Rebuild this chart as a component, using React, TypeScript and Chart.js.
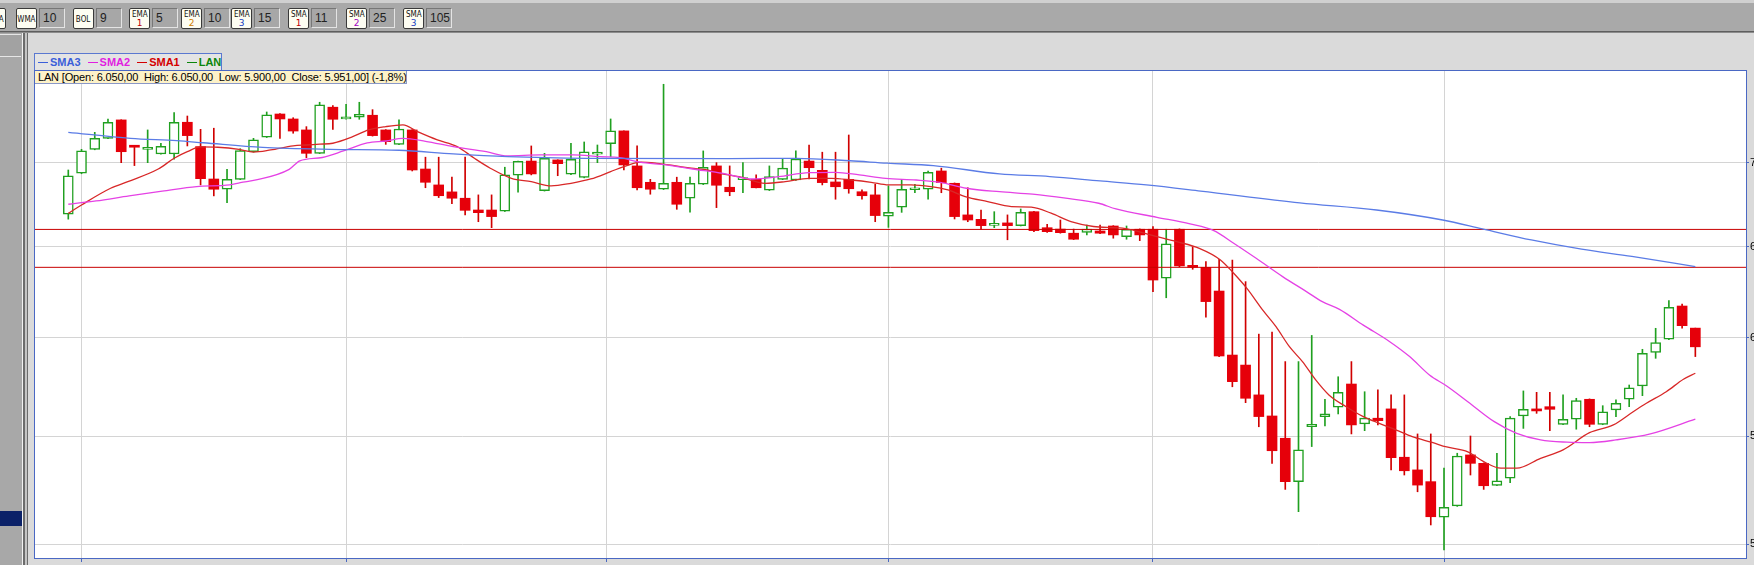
import React, { useEffect, useRef } from 'react';
import { Chart, registerables } from 'chart.js';

Chart.register(...registerables);

// ---------- DATA ----------
const seriesName = 'LAN';

const opens = [
  6690, 6935, 7083, 7152, 7269, 7100, 7083, 7054, 7054, 7254,
  7100, 6900, 6838, 6898, 7068, 7159, 7307, 7275, 7205, 7058,
  7351, 7275, 7286, 7299, 7205, 7114, 7205, 6961, 6864, 6822,
  6784, 6714, 6714, 6707, 6923, 7010, 6829, 7017, 6929, 6909,
  7052, 7118, 7199, 6980, 6880, 6838, 6880, 6784, 6868, 6980,
  6850, 6896, 6898, 6832, 6898, 6894, 7010, 6953, 6882, 6898,
  6823, 6804, 6677, 6730, 6835, 6838, 6949, 6874, 6685, 6659,
  6624, 6638, 6622, 6704, 6610, 6602, 6578, 6583, 6591, 6620,
  6558, 6601, 6601, 6322, 6601, 6391, 6383, 6251, 5908, 5856,
  5704, 5599, 5490, 5284, 5546, 5596, 5642, 5759, 5560, 5588,
  5634, 5399, 5339, 5284, 5121, 5172, 5410, 5370, 5267, 5300,
  5599, 5634, 5645, 5558, 5583, 5682, 5558, 5629, 5682, 5749,
  5922, 5991, 6169, 6050,
];

const highs = [
  6955, 7083, 7190, 7275, 7270, 7102, 7205, 7121, 7316, 7294,
  7209, 7216, 6959, 7087, 7152, 7320, 7309, 7283, 7226, 7383,
  7361, 7370, 7383, 7335, 7207, 7269, 7207, 7034, 7034, 6911,
  7034, 6804, 6804, 6972, 7010, 7104, 7058, 7018, 7121, 7129,
  7110, 7275, 7200, 7104, 6898, 7501, 6911, 6911, 7073, 7000,
  6980, 7000, 6925, 6980, 7025, 7073, 7110, 7065, 7065, 7173,
  6834, 6868, 6858, 6898, 6868, 6949, 6966, 6876, 6847, 6714,
  6704, 6685, 6720, 6706, 6630, 6655, 6602, 6626, 6626, 6622,
  6620, 6603, 6616, 6601, 6603, 6500, 6415, 6428, 6424, 6303,
  6018, 6029, 5874, 5874, 6011, 5682, 5796, 5874, 5720, 5729,
  5704, 5704, 5511, 5511, 5347, 5418, 5501, 5372, 5418, 5596,
  5724, 5717, 5717, 5704, 5687, 5684, 5650, 5679, 5754, 5938,
  6049, 6198, 6179, 6050,
];

const lows = [
  6660, 6932, 7080, 7150, 7000, 6982, 7000, 7052, 7021, 7104,
  6864, 6798, 6758, 6896, 7066, 7157, 7152, 7184, 7031, 7056,
  7209, 7273, 7273, 7166, 7114, 7112, 6949, 6847, 6788, 6752,
  6685, 6645, 6610, 6705, 6820, 6925, 6827, 6920, 6927, 6907,
  7000, 7037, 6955, 6834, 6808, 6836, 6718, 6701, 6866, 6728,
  6799, 6817, 6846, 6830, 6896, 6892, 6900, 6864, 6778, 6814,
  6778, 6645, 6612, 6700, 6817, 6778, 6817, 6661, 6645, 6602,
  6610, 6540, 6620, 6587, 6583, 6578, 6541, 6568, 6576, 6549,
  6543, 6535, 6247, 6214, 6386, 6372, 6108, 5899, 5745, 5665,
  5546, 5370, 5248, 5146, 5450, 5550, 5609, 5511, 5527, 5555,
  5339, 5315, 5237, 5086, 4975, 5170, 5315, 5248, 5265, 5279,
  5538, 5612, 5527, 5556, 5534, 5546, 5556, 5596, 5645, 5700,
  5891, 5989, 6049, 5900,
];

const closes = [
  6920, 7073, 7152, 7254, 7068, 7096, 7096, 7102, 7254, 7169,
  6902, 6838, 6898, 7075, 7142, 7301, 7275, 7198, 7058, 7366,
  7273, 7288, 7305, 7169, 7131, 7211, 6955, 6880, 6799, 6784,
  6712, 6698, 6675, 6925, 7009, 6931, 7027, 6994, 7021, 7068,
  7065, 7199, 6986, 6847, 6838, 6874, 6748, 6874, 6972, 6862,
  6823, 6904, 6847, 6915, 6966, 7023, 6969, 6878, 6853, 6841,
  6799, 6681, 6700, 6838, 6844, 6941, 6878, 6675, 6655, 6622,
  6632, 6622, 6700, 6593, 6587, 6581, 6543, 6602, 6578, 6568,
  6601, 6568, 6312, 6516, 6391, 6383, 6193, 5903, 5771, 5687,
  5596, 5430, 5284, 5434, 5558, 5609, 5717, 5555, 5588, 5576,
  5397, 5335, 5268, 5123, 5166, 5405, 5370, 5265, 5288, 5588,
  5632, 5624, 5632, 5583, 5675, 5558, 5620, 5662, 5740, 5917,
  5973, 6162, 6063, 5951,
];

// moving-average lines, read as [candle index, price]
const sma1Points: [number, number][] = [
  [0, 6694], [1, 6744], [3.2, 6844], [4.5, 6884], [6.8, 6961], [8, 7027], [9, 7068], [10, 7098],
  [11.3, 7096], [12.9, 7083], [14, 7066], [15.3, 7079], [17, 7104], [18, 7110], [19, 7115], [20, 7121],
  [21.5, 7162], [22.7, 7205], [24, 7226], [25.3, 7237], [26.4, 7194], [27.9, 7142], [29.4, 7100],
  [30.7, 7027], [31.9, 6966], [33.5, 6904], [35, 6884], [36.5, 6858], [38, 6874], [39.5, 6900],
  [41, 6945], [42, 6976], [43.3, 7003], [44.5, 6996], [45.8, 6982], [47.1, 6966], [48.3, 6955],
  [49.2, 6935], [50.7, 6914], [52.7, 6874], [54.2, 6884], [56, 6904], [57.7, 6904], [59.2, 6894],
  [60.7, 6880], [62, 6864], [63.7, 6864], [65.2, 6854], [66.5, 6834], [67.8, 6794], [69.5, 6764],
  [71.3, 6734], [72.8, 6731], [74.3, 6695], [75.8, 6645], [77.5, 6617], [79.7, 6607], [82.3, 6558],
  [83.8, 6529], [85.5, 6491], [87.1, 6425], [88.1, 6350], [89.1, 6266], [90.3, 6147], [91.3, 6058],
  [92.3, 5953], [93.3, 5874], [94.3, 5780], [95.3, 5704], [96.6, 5645], [97.9, 5596], [99.1, 5563],
  [100.4, 5530], [101.6, 5498], [103.1, 5470], [104.2, 5448], [105.8, 5425], [107, 5378],
  [108.3, 5347], [109.5, 5347], [111.3, 5394], [113, 5434], [115, 5517], [116.8, 5555],
  [118.3, 5620], [119.3, 5662], [120.8, 5720], [122.1, 5783], [123, 5814],
];

const sma2Points: [number, number][] = [
  [0, 6748], [2.1, 6768], [4.6, 6798], [7.1, 6826], [9.7, 6854], [12.2, 6864], [13, 6878],
  [14.2, 6894], [16.7, 6959], [17.5, 7011], [19.2, 7032], [20.8, 7073], [22.6, 7123], [24, 7135],
  [25.3, 7151], [27, 7133], [29.1, 7100], [31.6, 7068], [33.2, 7042], [35.7, 7048], [38.2, 7048],
  [40.2, 7037], [41.7, 7031], [43.2, 7003], [45.2, 6986], [47.2, 6961], [49.5, 6934], [51.7, 6900],
  [53.7, 6914], [56, 6939], [58, 6941], [59.8, 6925], [61.8, 6904], [64.1, 6894], [65.9, 6880],
  [67.9, 6844], [70.4, 6823], [72.9, 6808], [75.4, 6784], [77.9, 6754], [79.2, 6720], [82.3, 6671],
  [84.8, 6632], [86.6, 6593], [88.1, 6520], [89.8, 6434], [91.8, 6331], [93.6, 6248], [94.8, 6193],
  [96.1, 6151], [97.9, 6066], [99.9, 5978], [101.4, 5900], [102.9, 5805], [104.2, 5749],
  [105.8, 5670], [107.8, 5571], [109.5, 5514], [111.3, 5482], [113.3, 5471], [115, 5469],
  [117, 5482], [119.6, 5511], [123, 5583],
];

const sma3Points: [number, number][] = [
  [0, 7190], [4.7, 7152], [8.2, 7137], [10.2, 7124], [14.7, 7095], [19.8, 7083], [25, 7077],
  [29.1, 7054], [33.2, 7037], [39.2, 7027], [50, 7025], [55, 7027], [59.1, 7012], [61.9, 6997],
  [65.4, 6982], [70.4, 6931], [74.2, 6915], [78, 6888], [81.5, 6864], [85.6, 6827], [93.1, 6756],
  [98.9, 6714], [103.9, 6655], [106.9, 6603], [110.6, 6539], [114.4, 6486], [118.2, 6445],
  [123, 6387],
];

const levelLines = [6600, 6383];
const priceTicks = [5000, 5500, 6000, 6500, 7000];
const periodGridIdx = [1, 21, 40.7, 62, 82, 104];

const legendItems = [
  { label: 'SMA3', color: '#3b5fd9' },
  { label: 'SMA2', color: '#e01fe0' },
  { label: 'SMA1', color: '#d40000' },
  { label: 'LAN', color: '#0c860c' },
];

const toolbarItems = [
  { name: 'WMA', num: '', numColor: '', value: '10' },
  { name: 'BOL', num: '', numColor: '', value: '9' },
  { name: 'EMA', num: '1', numColor: '#c00000', value: '5' },
  { name: 'EMA', num: '2', numColor: '#d08000', value: '10' },
  { name: 'EMA', num: '3', numColor: '#2040c0', value: '15' },
  { name: 'SMA', num: '1', numColor: '#c00000', value: '11' },
  { name: 'SMA', num: '2', numColor: '#a000c0', value: '25' },
  { name: 'SMA', num: '3', numColor: '#2040c0', value: '105' },
];

// ---------- LAYOUT (not data) ----------
const toolbarLeft = [16, 73, 129, 181, 231, 288, 346, 403];
const X_MIN = -2.517;
const X_MAX = 126.83;
const Y_MIN = 4940;
const Y_MAX = 7596;

const fmtDE = (v: number, dec: number) => {
  const s = v.toFixed(dec);
  const [i, d] = s.split('.');
  const neg = i.startsWith('-');
  const ii = (neg ? i.slice(1) : i).replace(/\B(?=(\d{3})+(?!\d))/g, '.');
  return (neg ? '-' : '') + ii + (d !== undefined ? ',' + d : '');
};

export default function App() {
  const canvasRef = useRef<HTMLCanvasElement | null>(null);

  useEffect(() => {
    const canvas = canvasRef.current;
    if (!canvas) return;
    const n = opens.length;
    const idx = Array.from({ length: n }, (_, i) => i);
    const isUp = idx.map((i) => closes[i] > opens[i]);
    const GREEN = '#20a020';
    const RED = '#e6000a';
    const RED_WICK = '#d00000';

    const chart = new Chart(canvas, {
      type: 'bar',
      data: {
        datasets: [
          {
            type: 'line',
            label: 'SMA3',
            data: sma3Points.map(([x, y]) => ({ x, y })),
            borderColor: '#5b7ce6',
            borderWidth: 1.3,
            pointRadius: 0,
            cubicInterpolationMode: 'monotone',
            order: 1,
          } as any,
          {
            type: 'line',
            label: 'SMA2',
            data: sma2Points.map(([x, y]) => ({ x, y })),
            borderColor: '#e542e5',
            borderWidth: 1.3,
            pointRadius: 0,
            cubicInterpolationMode: 'monotone',
            order: 1,
          } as any,
          {
            type: 'line',
            label: 'SMA1',
            data: sma1Points.map(([x, y]) => ({ x, y })),
            borderColor: '#d82828',
            borderWidth: 1.3,
            pointRadius: 0,
            cubicInterpolationMode: 'monotone',
            order: 1,
          } as any,
          ...levelLines.map((v) => ({
            type: 'line',
            label: 'level ' + v,
            data: [
              { x: X_MIN, y: v },
              { x: X_MAX, y: v },
            ],
            borderColor: '#c80000',
            borderWidth: 1,
            pointRadius: 0,
            order: 2,
          })) as any[],
          {
            type: 'bar',
            label: seriesName + ' body',
            data: idx.map((i) => ({ x: i, y: [opens[i], closes[i]] })),
            backgroundColor: isUp.map((u) => (u ? '#ffffff' : RED)),
            borderColor: isUp.map((u) => (u ? GREEN : RED)),
            borderWidth: isUp.map((u) => (u ? 1.5 : 0)),
            borderSkipped: false,
            barThickness: 10,
            grouped: false,
            minBarLength: 2,
            order: 3,
          } as any,
          {
            type: 'bar',
            label: seriesName + ' wick',
            data: idx.map((i) => ({ x: i, y: [lows[i], highs[i]] })),
            backgroundColor: isUp.map((u) => (u ? GREEN : RED_WICK)),
            borderWidth: 0,
            barThickness: 1,
            grouped: false,
            order: 4,
          } as any,
        ],
      },
      options: {
        responsive: false,
        maintainAspectRatio: false,
        animation: false,
        events: [],
        layout: { padding: { left: 35, top: 70, right: 0, bottom: 0 } },
        plugins: { legend: { display: false }, tooltip: { enabled: false } },
        scales: {
          x: {
            type: 'linear',
            min: X_MIN,
            max: X_MAX,
            offset: false,
            afterBuildTicks: (s: any) => {
              s.ticks = periodGridIdx.map((v) => ({ value: v }));
            },
            afterFit: (s: any) => {
              s.height = 42;
            },
            ticks: { display: false },
            grid: {
              color: '#d4d4d4',
              lineWidth: 1,
              offset: false,
              drawTicks: true,
              tickLength: 4,
              tickColor: '#4a68c0',
            },
            border: { display: false },
          },
          y: {
            type: 'logarithmic',
            position: 'right',
            min: Y_MIN,
            max: Y_MAX,
            afterBuildTicks: (s: any) => {
              s.ticks = priceTicks.map((v) => ({ value: v }));
            },
            afterFit: (s: any) => {
              s.width = 54;
            },
            ticks: {
              display: true,
              padding: 1,
              color: '#000000',
              autoSkip: false,
              font: { family: 'Liberation Sans', size: 11 },
              callback: (v: any) => fmtDE(Number(v), 0),
            },
            grid: {
              color: '#d4d4d4',
              lineWidth: 1,
              drawTicks: true,
              tickLength: 3,
              tickColor: '#4a68c0',
            },
            border: { display: false },
          },
        },
      } as any,
    });
    return () => chart.destroy();
  }, []);

  const last = opens.length - 1;
  const chg = ((closes[last] - closes[last - 1]) / closes[last - 1]) * 100;
  const infoText =
    `${seriesName} [Open: ${fmtDE(opens[last], 2)}  High: ${fmtDE(highs[last], 2)}  ` +
    `Low: ${fmtDE(lows[last], 2)}  Close: ${fmtDE(closes[last], 2)}] (${fmtDE(chg, 1)}%)`;

  const abs = (o: React.CSSProperties): React.CSSProperties => ({ position: 'absolute', ...o });

  const btnStyle = (left: number): React.CSSProperties =>
    abs({
      left,
      top: 8,
      width: 21,
      height: 21,
      boxSizing: 'border-box',
      background: '#fdfdf2',
      border: '1px solid #3a3a3a',
      borderRadius: 2,
      fontFamily: '"DejaVu Sans", sans-serif',
      fontSize: 9,
      textAlign: 'center',
      color: '#111',
      display: 'flex',
      flexDirection: 'column',
      alignItems: 'center',
      justifyContent: 'center',
      lineHeight: '8px',
      overflow: 'hidden',
    });

  return (
    <div
      style={{
        position: 'fixed',
        left: 0,
        top: 0,
        width: 1754,
        height: 565,
        overflow: 'hidden',
        background: '#dadada',
        fontFamily: '"Liberation Sans", Arial, sans-serif',
      }}
    >
      {/* toolbar */}
      <div style={abs({ left: 0, top: 0, width: 1754, height: 3, background: '#d0d0d0' })} />
      <div style={abs({ left: 0, top: 3, width: 1754, height: 28, background: '#a9a9a9' })} />
      <div style={abs({ left: 0, top: 31, width: 1754, height: 1, background: '#5e5e5e' })} />
      <div style={abs({ left: 0, top: 32, width: 1754, height: 1, background: '#8c8c8c' })} />
      {/* partial button at the very left */}
      <div style={btnStyle(-15)}>
        <span style={{ display: 'inline-block', transform: 'scaleX(0.8)' }}>SMA</span>
      </div>
      {toolbarItems.map((t, k) => (
        <React.Fragment key={k}>
          <div style={btnStyle(toolbarLeft[k])}>
            <span style={{ display: 'inline-block', transform: 'scaleX(0.8)', whiteSpace: 'nowrap' }}>{t.name}</span>
            {t.num ? <span style={{ color: t.numColor, marginTop: 1 }}>{t.num}</span> : null}
          </div>
          <div
            style={abs({
              left: toolbarLeft[k] + 23,
              top: 8,
              width: 26,
              height: 20,
              boxSizing: 'border-box',
              background: '#a7a7a7',
              borderStyle: 'solid',
              borderWidth: 1,
              borderColor: '#777 #e4e4e4 #e4e4e4 #777',
              fontSize: 12,
              lineHeight: '18px',
              paddingLeft: 3,
              color: '#222',
            })}
          >
            {t.value}
          </div>
        </React.Fragment>
      ))}

      {/* left side panel */}
      <div style={abs({ left: 0, top: 33, width: 22, height: 532, background: '#a8a8a8' })} />
      <div
        style={abs({
          left: 0,
          top: 34,
          width: 21,
          height: 23,
          boxSizing: 'border-box',
          borderTop: '1px solid #e6e6e6',
          borderBottom: '1px solid #e6e6e6',
          background: '#a2a2a2',
        })}
      />
      <div style={abs({ left: 0, top: 511, width: 22, height: 15, background: '#0b2168' })} />
      <div style={abs({ left: 22, top: 33, width: 1, height: 532, background: '#f2f2f2' })} />
      <div style={abs({ left: 23, top: 33, width: 2, height: 532, background: '#6c6c6c' })} />
      <div style={abs({ left: 25, top: 33, width: 2, height: 532, background: '#c4c4c4' })} />
      <div style={abs({ left: 27, top: 33, width: 1, height: 532, background: '#6c6c6c' })} />

      {/* plot background */}
      <div style={abs({ left: 34, top: 70, width: 1713, height: 489, background: '#ffffff' })} />

      <canvas ref={canvasRef} width={1800} height={600} style={abs({ left: 0, top: 0, display: 'block' })} />

      {/* plot frame */}
      <div
        style={abs({
          left: 34,
          top: 70,
          width: 1713,
          height: 489,
          boxSizing: 'border-box',
          border: '1px solid #4a68c4',
          pointerEvents: 'none',
        })}
      />

      {/* legend */}
      <div
        style={abs({
          left: 34,
          top: 53,
          width: 188,
          height: 17,
          boxSizing: 'border-box',
          borderTop: '1px solid #5a78d0',
          borderLeft: '1px solid #5a78d0',
          borderRight: '1px solid #5a78d0',
          background: '#e4e4e4',
          display: 'flex',
          alignItems: 'center',
          paddingLeft: 3,
          fontSize: 11,
          fontWeight: 'bold',
        })}
      >
        {legendItems.map((l, k) => (
          <span key={k} style={{ display: 'inline-flex', alignItems: 'center', marginRight: 7, color: l.color }}>
            <span style={{ display: 'inline-block', width: 10, height: 0, borderTop: `1.5px solid ${l.color}`, marginRight: 2 }} />
            {l.label}
          </span>
        ))}
      </div>

      {/* info box */}
      <div
        style={abs({
          left: 35,
          top: 71,
          width: 372,
          height: 13,
          boxSizing: 'border-box',
          background: '#fdf2c8',
          borderRight: '1px solid #8a98c8',
          borderBottom: '1px solid #8a98c8',
          fontSize: 11,
          lineHeight: '12px',
          paddingLeft: 3,
          letterSpacing: '-0.17px',
          whiteSpace: 'pre',
          overflow: 'hidden',
          color: '#000',
        })}
      >
        {infoText}
      </div>
    </div>
  );
}
